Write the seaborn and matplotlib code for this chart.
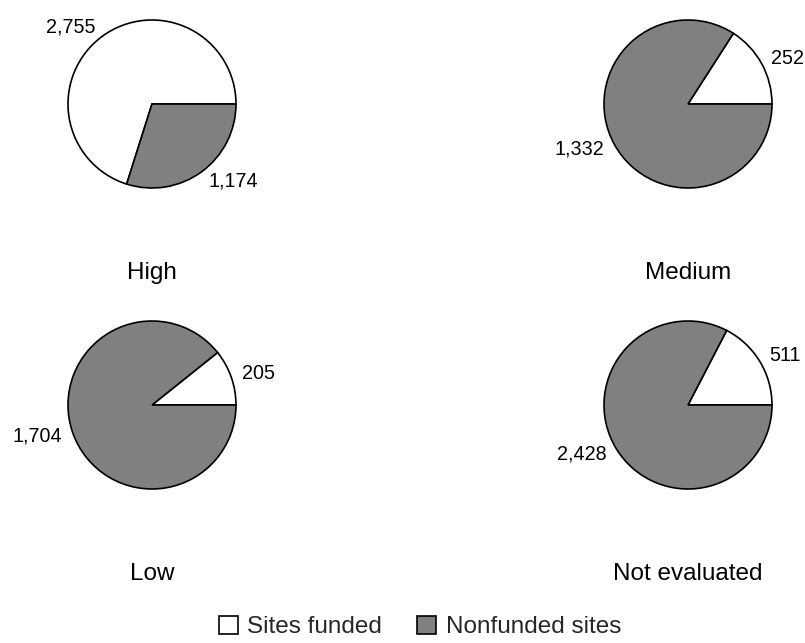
import matplotlib
matplotlib.use("Agg")
import matplotlib.pyplot as plt
from matplotlib.patches import Patch
import seaborn as sns

# Values
categories = ["High", "Medium", "Low", "Not evaluated"]
sites_funded = [2755, 252, 205, 511]
nonfunded_sites = [1174, 1332, 1704, 2428]
series_names = ["Sites funded", "Nonfunded sites"]
series_colors = ["white", "#808080"]

sns.set_theme(style="white")
plt.rcParams["font.family"] = ["Liberation Sans", "DejaVu Sans"]

W, H = 805, 643
fig = plt.figure(figsize=(W / 100, H / 100), dpi=100)

# pie centres in pixels (from top-left), radius in pixels
r = 84
centres = [(152, 104), (688, 104), (152, 405), (688, 405)]
lim = 1.5

for cat, fund, nonfund, (cx, cy) in zip(categories, sites_funded, nonfunded_sites, centres):
    ax = fig.add_axes([(cx - lim * r) / W, (H - cy - lim * r) / H,
                       2 * lim * r / W, 2 * lim * r / H])
    vals = [fund, nonfund]
    ax.pie(vals, colors=series_colors, startangle=0, counterclock=True,
           labels=[f"{v:,}" for v in vals], labeldistance=1.13,
           wedgeprops=dict(edgecolor="black", linewidth=1.2),
           textprops=dict(fontsize=14.2, color="black"))
    ax.set_xlim(-lim, lim)
    ax.set_ylim(-lim, lim)
    ax.set_aspect("equal")
    ax.axis("off")
    # category name sits below the pie
    ax.text(0, -2.01, cat, ha="center", va="center", fontsize=17.5,
            color="black", clip_on=False)

handles = [Patch(facecolor=c, edgecolor="black", linewidth=1.2) for c in series_colors]
fig.legend(handles, series_names, loc="center", bbox_to_anchor=(420 / W, 1 - 627 / H),
           ncol=2, frameon=False, fontsize=17.5, handlelength=0.78, handleheight=0.78,
           handletextpad=0.4, columnspacing=1.45, borderaxespad=0, borderpad=0)

fig.savefig("out.png", dpi=100, facecolor="white")
